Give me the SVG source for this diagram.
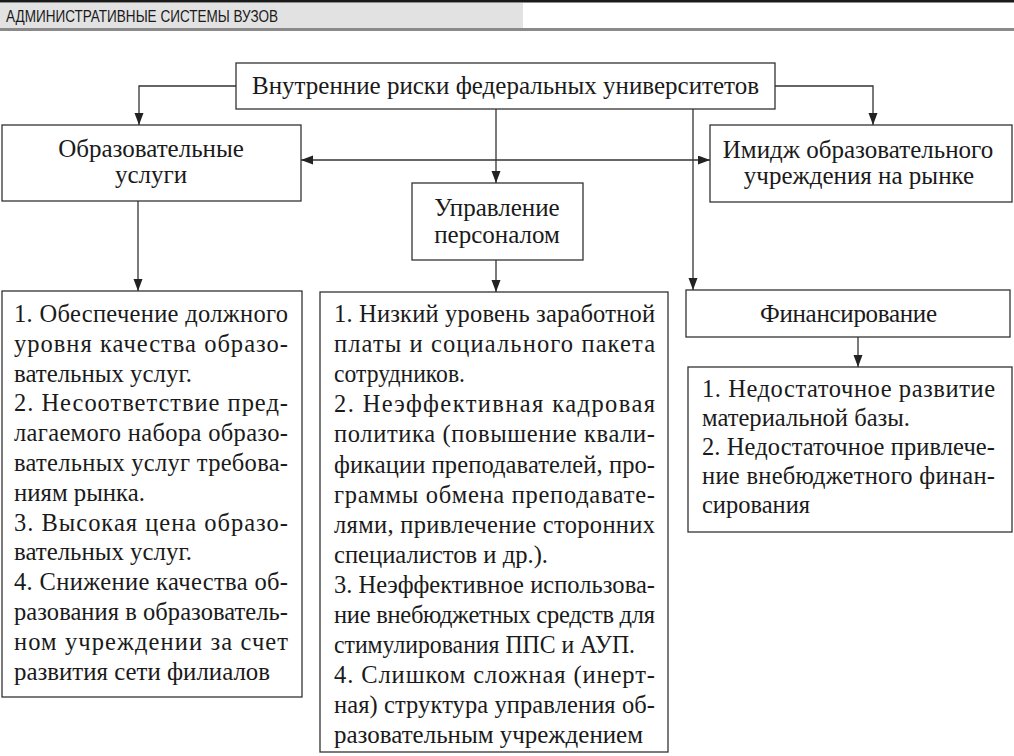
<svg xmlns="http://www.w3.org/2000/svg" width="1014" height="756" viewBox="0 0 1014 756">
<defs>
<marker id="ah" markerUnits="userSpaceOnUse" markerWidth="12" markerHeight="10" refX="12" refY="4.5" orient="auto-start-reverse">
<path d="M0,0 L12,4.5 L0,9 z" fill="#222"/>
</marker>
<style>
.box{fill:#fff;stroke:#333;stroke-width:1.3}
.t{font-family:"Liberation Serif","Times New Roman",serif;font-size:25px;fill:#1a1a1a}
.c{text-anchor:middle}
.b{font-family:"Liberation Serif","Times New Roman",serif;font-size:24.5px;fill:#1a1a1a}
.ln{fill:none;stroke:#333;stroke-width:1.3}
</style>
</defs>
<rect width="1014" height="756" fill="#fff"/>
<g id="header">
<rect x="0" y="0" width="1014" height="2.5" fill="#1a1a1a"/>
<rect x="0" y="3" width="523" height="25" fill="#e2e2e2"/>
<rect x="0" y="28" width="1014" height="3" fill="#8a8a8a"/>
<text x="6" y="22" font-family="'Liberation Sans',Arial,sans-serif" font-size="16" fill="#1a1a1a" textLength="272" lengthAdjust="spacingAndGlyphs">АДМИНИСТРАТИВНЫЕ СИСТЕМЫ ВУЗОВ</text>
</g>
<g id="connectors">
<path class="ln" d="M236,86 H139 V125" marker-end="url(#ah)"/>
<path class="ln" d="M496,109 V183" marker-end="url(#ah)"/>
<path class="ln" d="M775,86 H873 V125" marker-end="url(#ah)"/>
<path class="ln" d="M693,109 V290" marker-end="url(#ah)"/>
<path class="ln" d="M301,160 H710" marker-start="url(#ah)" marker-end="url(#ah)"/>
<path class="ln" d="M138,201 V291" marker-end="url(#ah)"/>
<path class="ln" d="M496,260 V292" marker-end="url(#ah)"/>
<path class="ln" d="M858,337 V367" marker-end="url(#ah)"/>
</g>
<g id="root">
<rect class="box" x="236" y="63" width="539" height="46"/>
<text class="t c" x="505.5" y="94">Внутренние риски федеральных университетов</text>
</g>
<g id="edu">
<rect class="box" x="2" y="125" width="299" height="76"/>
<text class="t c" x="151" y="157">Образовательные</text>
<text class="t c" x="151" y="183">услуги</text>
</g>
<g id="staff">
<rect class="box" x="412" y="183" width="171" height="77"/>
<text class="t c" x="497" y="216">Управление</text>
<text class="t c" x="497" y="243">персоналом</text>
</g>
<g id="image">
<rect class="box" x="710" y="125" width="302" height="77"/>
<text class="t c" x="858" y="158">Имидж образовательного</text>
<text class="t c" x="859" y="184">учреждения на рынке</text>
</g>
<g id="finance">
<rect class="box" x="686" y="290" width="324" height="47"/>
<text class="t" x="760" y="321.5" textLength="177" lengthAdjust="spacing">Финансирование</text>
</g>
<g id="edu-risks">
<rect class="box" x="2" y="291" width="300" height="406"/>
<g class="b">
<text x="14" y="322" textLength="274" lengthAdjust="spacing">1. Обеспечение должного</text>
<text x="14" y="351.8" textLength="274" lengthAdjust="spacing">уровня качества образо-</text>
<text x="14" y="381.6" textLength="178" lengthAdjust="spacingAndGlyphs">вательных услуг.</text>
<text x="14" y="411.4" textLength="274" lengthAdjust="spacing">2. Несоответствие пред-</text>
<text x="14" y="441.2" textLength="274" lengthAdjust="spacing">лагаемого набора образо-</text>
<text x="14" y="471" textLength="274" lengthAdjust="spacing">вательных услуг требова-</text>
<text x="14" y="500.8" textLength="131" lengthAdjust="spacingAndGlyphs">ниям рынка.</text>
<text x="14" y="530.6" textLength="274" lengthAdjust="spacing">3. Высокая цена образо-</text>
<text x="14" y="560.4" textLength="178" lengthAdjust="spacingAndGlyphs">вательных услуг.</text>
<text x="14" y="590.2" textLength="274" lengthAdjust="spacing">4. Снижение качества об-</text>
<text x="14" y="620" textLength="274" lengthAdjust="spacing">разования в образователь-</text>
<text x="14" y="649.8" textLength="274" lengthAdjust="spacing">ном учреждении за счет</text>
<text x="14" y="679.6" textLength="256" lengthAdjust="spacingAndGlyphs">развития сети филиалов</text>
</g>
</g>
<g id="staff-risks">
<rect class="box" x="320" y="292" width="348" height="460"/>
<g class="b">
<text x="334" y="322" textLength="321" lengthAdjust="spacing">1. Низкий уровень заработной</text>
<text x="334" y="352.1" textLength="321" lengthAdjust="spacing">платы и социального пакета</text>
<text x="334" y="382.2" textLength="131" lengthAdjust="spacingAndGlyphs">сотрудников.</text>
<text x="334" y="412.3" textLength="321" lengthAdjust="spacing">2. Неэффективная кадровая</text>
<text x="334" y="442.4" textLength="321" lengthAdjust="spacing">политика (повышение квали-</text>
<text x="334" y="472.5" textLength="321" lengthAdjust="spacing">фикации преподавателей, про-</text>
<text x="334" y="502.6" textLength="321" lengthAdjust="spacing">граммы обмена преподавате-</text>
<text x="334" y="532.7" textLength="321" lengthAdjust="spacing">лями, привлечение сторонних</text>
<text x="334" y="562.8" textLength="214" lengthAdjust="spacingAndGlyphs">специалистов и др.).</text>
<text x="334" y="592.9" textLength="321" lengthAdjust="spacing">3. Неэффективное использова-</text>
<text x="334" y="623" textLength="321" lengthAdjust="spacing">ние внебюджетных средств для</text>
<text x="334" y="653.1" textLength="301" lengthAdjust="spacingAndGlyphs">стимулирования ППС и АУП.</text>
<text x="334" y="683.2" textLength="321" lengthAdjust="spacing">4. Слишком сложная (инерт-</text>
<text x="334" y="713.3" textLength="321" lengthAdjust="spacing">ная) структура управления об-</text>
<text x="334" y="743.4" textLength="309" lengthAdjust="spacingAndGlyphs">разовательным учреждением</text>
</g>
</g>
<g id="finance-risks">
<rect class="box" x="688" y="367" width="324" height="165"/>
<g class="b">
<text x="702" y="397" textLength="293" lengthAdjust="spacing">1. Недостаточное развитие</text>
<text x="702" y="426" textLength="208" lengthAdjust="spacingAndGlyphs">материальной базы.</text>
<text x="702" y="455" textLength="293" lengthAdjust="spacing">2. Недостаточное привлече-</text>
<text x="702" y="484" textLength="293" lengthAdjust="spacing">ние внебюджетного финан-</text>
<text x="702" y="513" textLength="108" lengthAdjust="spacingAndGlyphs">сирования</text>
</g>
</g>
</svg>
